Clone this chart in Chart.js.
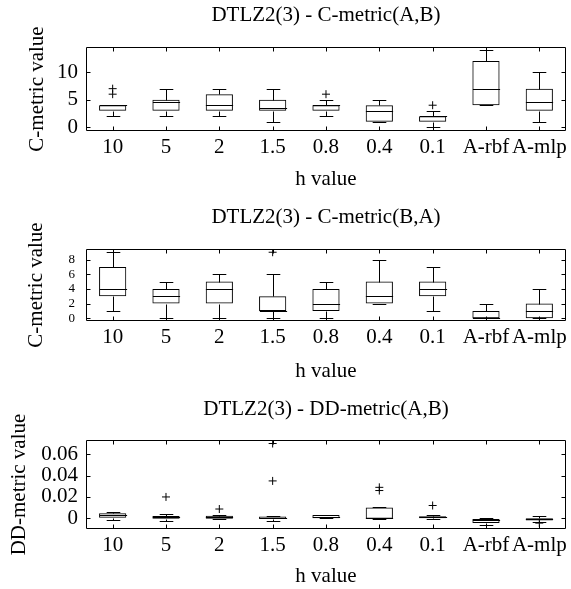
<!DOCTYPE html>
<html><head><meta charset="utf-8">
<script src="https://cdn.jsdelivr.net/npm/chart.js@4.4.1/dist/chart.umd.min.js"></script>
<style>
html,body{margin:0;padding:0;background:#fff;}
body{width:571px;height:589px;position:relative;overflow:hidden;}
canvas{position:absolute;left:0;}
</style></head><body>
<canvas id="c1" width="571" height="200" style="top:0px"></canvas>
<canvas id="c2" width="571" height="192" style="top:200px"></canvas>
<canvas id="c3" width="571" height="197" style="top:392px"></canvas>
<script>
const categories = ['10','5','2','1.5','0.8','0.4','0.1','A-rbf','A-mlp'];

// Panel 1: C-metric(A,B)
const cab_low  = [2, 2, 2, 1, 2, 1, 0, 4, 1];
const cab_q1   = [3, 3, 3, 3, 3, 1, 1, 4, 3];
const cab_med  = [4, 4.5, 4, 3.5, 4, 3, 2, 7, 4.5];
const cab_q3   = [4, 5, 6, 5, 4, 4, 2, 12, 7];
const cab_high = [4, 7, 7, 7, 5, 5, 3, 14, 10];
const cab_outCat = ['10', '10', '0.8', '0.1'];
const cab_outVal = [6, 7, 6, 4];
const cab_ticks = [0, 5, 10];

// Panel 2: C-metric(B,A)
const cba_low  = [1, 0, 0, 0, 0, 2, 1, 0, 0];
const cba_q1   = [3, 2, 2, 1, 1, 2, 3, 0, 0];
const cba_med  = [4, 3, 4, 1, 2, 3, 4, 0, 1];
const cba_q3   = [7, 4, 5, 3, 4, 5, 5, 1, 2];
const cba_high = [9, 5, 6, 6, 5, 8, 7, 2, 4];
const cba_outCat = ['1.5'];
const cba_outVal = [9];
const cba_ticks = [0, 2, 4, 6, 8];

// Panel 3: DD-metric(A,B)
const dd_low  = [-0.0015, -0.0022, -0.001, -0.0022, 0, -0.001, -0.0005, -0.006, -0.003];
const dd_q1   = [0.0006, -0.0004, -0.0004, -0.0006, 0, -0.0003, 0, -0.0043, -0.002];
const dd_med  = [0.003, 0.001, 0.001, 0.0005, 0.001, 0, 0.001, -0.002, -0.001];
const dd_q3   = [0.0047, 0.0021, 0.0024, 0.0018, 0.003, 0.0102, 0.002, -0.0006, 0];
const dd_high = [0.0056, 0.0037, 0.003, 0.0018, 0.003, 0.0102, 0.003, 0, 0.002];
const dd_outCat = ['5', '2', '1.5', '1.5', '0.4', '0.4', '0.1', 'A-mlp'];
const dd_outVal = [0.02, 0.0087, 0.035, 0.070, 0.026, 0.029, 0.012, -0.0045];
const dd_ticks = [0, 0.02, 0.04, 0.06];

Chart.defaults.font.family = '"Liberation Serif", "DejaVu Serif", serif';
Chart.defaults.color = '#000';

const boxPlugin = {
  id: 'boxparts',
  afterDatasetsDraw(chart, args, opts) {
    const st = opts.stats;
    const {ctx, chartArea: a} = chart;
    const x = chart.scales.x, y = chart.scales.y;
    const meta = chart.getDatasetMeta(0);
    const py = v => Math.round(y.getPixelForValue(v)) + 0.5;
    ctx.save();
    ctx.strokeStyle = '#000';
    ctx.lineWidth = 1;
    ctx.beginPath();
    st.med.forEach((m, i) => {
      const el = meta.data[i];
      const cx = Math.round(x.getPixelForValue(i)) + 0.5;
      const hw = el.width / 2;
      const cw = el.width / 4;
      ctx.moveTo(cx - hw, py(m)); ctx.lineTo(cx + hw, py(m));
      ctx.moveTo(cx, py(st.q3[i])); ctx.lineTo(cx, py(st.high[i]));
      ctx.moveTo(cx - cw, py(st.high[i])); ctx.lineTo(cx + cw, py(st.high[i]));
      ctx.moveTo(cx, py(st.q1[i])); ctx.lineTo(cx, py(st.low[i]));
      ctx.moveTo(cx - cw, py(st.low[i])); ctx.lineTo(cx + cw, py(st.low[i]));
    });
    // frame
    const L = Math.round(a.left) + 0.5, R = Math.round(a.right) - 0.5;
    const T = Math.round(a.top) + 0.5, B = Math.round(a.bottom) - 0.5;
    ctx.rect(L, T, R - L, B - T);
    const tl = 4;
    x.ticks.forEach((t, i) => {
      const px = Math.round(x.getPixelForTick(i)) + 0.5;
      ctx.moveTo(px, B); ctx.lineTo(px, B - tl);
      ctx.moveTo(px, T); ctx.lineTo(px, T + tl);
    });
    y.ticks.forEach(t => {
      const p = py(t.value);
      ctx.moveTo(L, p); ctx.lineTo(L + tl, p);
      ctx.moveTo(R, p); ctx.lineTo(R - tl, p);
    });
    ctx.stroke();
    ctx.restore();
  }
};

function makeChart(id, cfg) {
  return new Chart(document.getElementById(id), {
    type: 'bar',
    data: {
      labels: categories,
      datasets: [
        {
          data: cfg.q1.map((v, i) => [v, cfg.q3[i]]),
          backgroundColor: 'rgba(255,255,255,0)',
          borderColor: '#000', borderWidth: 1, borderSkipped: false,
          barPercentage: 0.51, categoryPercentage: 1
        },
        {
          type: 'line',
          data: cfg.outCat.map((c, i) => ({x: c, y: cfg.outVal[i]})),
          showLine: false, pointStyle: 'cross', pointRadius: 4, pointHoverRadius: 4,
          borderColor: '#000', backgroundColor: '#000', borderWidth: 1
        }
      ]
    },
    options: {
      responsive: false, animation: false, devicePixelRatio: 1,
      layout: {padding: {left: 0, right: 1, top: 0, bottom: 0}},
      plugins: {
        legend: {display: false},
        tooltip: {enabled: false},
        title: {display: true, text: cfg.title, fullSize: false, color: '#000',
                font: {size: 21, weight: 'normal', lineHeight: 1.2}, padding: {top: cfg.tpt, bottom: cfg.tpb}},
        boxparts: {stats: cfg}
      },
      scales: {
        x: {
          type: 'category', offset: true,
          grid: {display: false, drawTicks: false}, border: {display: false},
          ticks: {font: {size: 21}, color: '#000', padding: 4, maxRotation: 0, autoSkip: false},
          title: {display: true, text: 'h value', color: '#000', font: {size: 21}, padding: {top: 0, bottom: cfg.xpb}},
          afterFit(s) { s.height = cfg.xh; }
        },
        y: {
          min: cfg.min, max: cfg.max,
          grid: {display: false, drawTicks: false}, border: {display: false},
          ticks: {font: {size: cfg.yfs}, color: '#000', padding: cfg.ypad, autoSkip: false, callback: v => String(v)},
          afterBuildTicks(s) { s.ticks = cfg.ticks.map(v => ({value: v})); },
          title: {display: true, text: cfg.ytitle, color: '#000', font: {size: 21}, padding: {top: cfg.ypt, bottom: 0}},
          afterFit(s) { s.width = 86; }
        }
      }
    },
    plugins: [boxPlugin]
  });
}

makeChart('c1', {title: 'DTLZ2(3) - C-metric(A,B)', ytitle: 'C-metric value',
  low: cab_low, q1: cab_q1, med: cab_med, q3: cab_q3, high: cab_high,
  outCat: cab_outCat, outVal: cab_outVal, ticks: cab_ticks,
  min: -0.62, max: 14.5, tpt: 2.5, tpb: 19.6, xh: 69.3, xpb: 8, ypt: 24.4, yfs: 21, ypad: 8});

makeChart('c2', {title: 'DTLZ2(3) - C-metric(B,A)', ytitle: 'C-metric value',
  low: cba_low, q1: cba_q1, med: cba_med, q3: cba_q3, high: cba_high,
  outCat: cba_outCat, outVal: cba_outVal, ticks: cba_ticks,
  min: -0.33, max: 9.4, tpt: 5, tpb: 19.1, xh: 71.3, xpb: 8, ypt: 23.5, yfs: 13, ypad: 11});

makeChart('c3', {title: 'DTLZ2(3) - DD-metric(A,B)', ytitle: 'DD-metric value',
  low: dd_low, q1: dd_q1, med: dd_med, q3: dd_q3, high: dd_high,
  outCat: dd_outCat, outVal: dd_outVal, ticks: dd_ticks,
  min: -0.0100, max: 0.0733, tpt: 4.5, tpb: 18.3, xh: 60, xpb: 0, ypt: 7, yfs: 21, ypad: 8});
</script>
</body></html>
